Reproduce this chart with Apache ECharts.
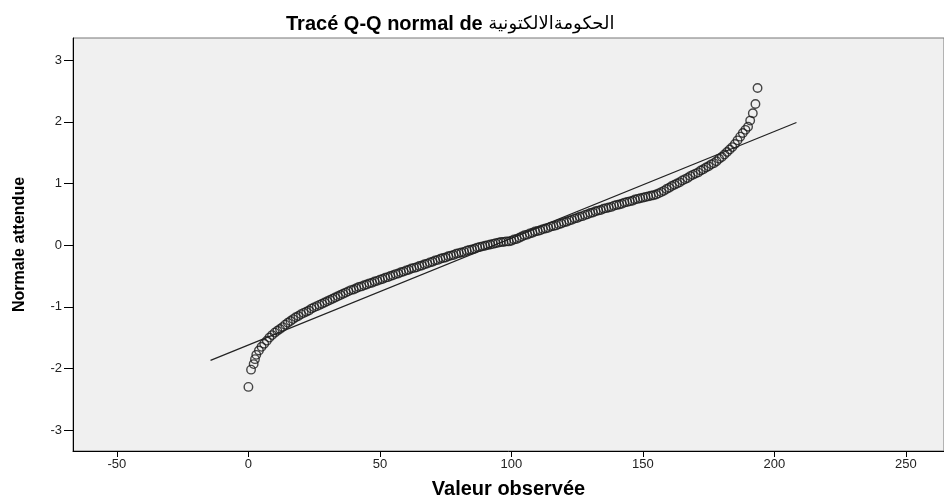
<!DOCTYPE html>
<html>
<head>
<meta charset="utf-8">
<script src="https://cdn.jsdelivr.net/npm/echarts@6/dist/echarts.min.js"></script>
<style>
html,body{margin:0;padding:0;background:#fff;}
#c{width:944px;height:504px;}
</style>
</head>
<body>
<div id="c"></div>
<script>
const obsX = [0, 1, 2, 2.5, 3, 4, 5, 6, 7, 8, 9, 10, 11, 12, 13, 14, 15, 16, 17, 18, 19,
  20, 21, 22, 23, 24, 25, 26, 27, 28, 29, 30, 31, 32, 33, 34, 35, 36, 37, 38, 39,
  40, 41, 42, 43, 44, 45, 46, 47, 48, 49, 50, 51, 52, 53, 54, 55, 56, 57, 58, 59,
  60, 61, 62, 63, 64, 65, 66, 67, 68, 69, 70, 71, 72, 73, 74, 75, 76, 77, 78, 79,
  80, 81, 82, 83, 84, 85, 86, 87, 88, 89, 90, 91, 92, 93, 94, 95, 96, 97, 98, 99,
  100, 101, 102, 103, 104, 105, 106, 107, 108, 109, 110, 111, 112, 113, 114, 115, 116, 117, 118, 119,
  120, 121, 122, 123, 124, 125, 126, 127, 128, 129, 130, 131, 132, 133, 134, 135, 136, 137, 138, 139,
  140, 141, 142, 143, 144, 145, 146, 147, 148, 149, 150, 151, 152, 153, 154, 155, 156, 157, 158, 159,
  160, 161, 162, 163, 164, 165, 166, 167, 168, 169, 170, 171, 172, 173, 174, 175, 176, 177, 178, 179,
  180, 181, 182, 183, 184, 185, 186, 187, 188, 189, 190, 190.8, 191.8, 192.8, 193.6];
const expY = [-2.30, -2.02, -1.93, -1.85, -1.78, -1.71, -1.65, -1.60, -1.55, -1.50, -1.46, -1.42, -1.39, -1.36, -1.33, -1.29, -1.26, -1.23, -1.20, -1.17, -1.15,
  -1.12, -1.10, -1.08, -1.06, -1.03, -1.01, -0.99, -0.97, -0.95, -0.93, -0.91, -0.89, -0.87, -0.85, -0.83, -0.81, -0.79, -0.77, -0.75, -0.73,
  -0.72, -0.70, -0.68, -0.67, -0.65, -0.64, -0.62, -0.61, -0.59, -0.58, -0.56, -0.55, -0.53, -0.52, -0.50, -0.49, -0.47, -0.46, -0.44, -0.43,
  -0.41, -0.40, -0.38, -0.37, -0.36, -0.34, -0.33, -0.31, -0.30, -0.28, -0.27, -0.25, -0.24, -0.22, -0.21, -0.20, -0.18, -0.17, -0.16, -0.14,
  -0.13, -0.12, -0.11, -0.09, -0.08, -0.07, -0.06, -0.04, -0.03, -0.02, -0.01, 0.00, 0.01, 0.02, 0.03, 0.04, 0.05, 0.05, 0.06, 0.06,
  0.07, 0.09, 0.10, 0.12, 0.14, 0.16, 0.17, 0.19, 0.20, 0.22, 0.23, 0.24, 0.26, 0.27, 0.28, 0.30, 0.31, 0.32, 0.34, 0.35,
  0.37, 0.38, 0.40, 0.41, 0.43, 0.44, 0.46, 0.47, 0.49, 0.50, 0.52, 0.53, 0.55, 0.56, 0.57, 0.59, 0.60, 0.61, 0.62, 0.64,
  0.65, 0.66, 0.67, 0.69, 0.70, 0.71, 0.72, 0.74, 0.75, 0.76, 0.77, 0.78, 0.79, 0.80, 0.81, 0.82, 0.84, 0.86, 0.88, 0.91,
  0.93, 0.96, 0.98, 1.00, 1.02, 1.05, 1.07, 1.09, 1.12, 1.14, 1.16, 1.18, 1.21, 1.23, 1.26, 1.28, 1.31, 1.33, 1.36, 1.40,
  1.43, 1.47, 1.51, 1.55, 1.59, 1.64, 1.70, 1.76, 1.82, 1.87, 1.92, 2.02, 2.14, 2.29, 2.55];
// Reference line end points
const lineX = [-14.4, 208.4];
const lineY = [-1.87, 1.99];
// Tick labels
const xTicks = [-50, 0, 50, 100, 150, 200, 250];
const yTicks = [-3, -2, -1, 0, 1, 2, 3];

const titleEn = 'Tracé Q-Q normal de ';
const titleAr = 'الحكومةالالكتونية';
const xName = 'Valeur observée';
const yName = 'Normale attendue';

const points = obsX.map((x, i) => [x, expY[i]]);
const linePts = lineX.map((x, i) => [x, lineY[i]]);

const chart = echarts.init(document.getElementById('c'), null, {renderer: 'canvas'});
chart.setOption({
  backgroundColor: '#fff',
  animation: false,
  title: {
    text: '{en|' + titleEn + '}{ar|' + titleAr + '}',
    left: 281,
    top: 9,
    textStyle: {
      rich: {
        en: {fontFamily: 'Liberation Sans, Arial, sans-serif', fontWeight: 'bold', fontSize: 20, color: '#000'},
        ar: {fontFamily: 'DejaVu Sans, sans-serif', fontWeight: 'normal', fontSize: 18, color: '#000'}
      }
    }
  },
  grid: {
    left: 73, right: 0, top: 38, bottom: 45,
    show: true, backgroundColor: '#f0f0f0', borderColor: '#777', borderWidth: 1,
    containLabel: false
  },
  xAxis: {
    type: 'value',
    min: -66.7, max: 264.5,
    name: xName,
    nameLocation: 'middle',
    nameGap: 28,
    nameTextStyle: {fontFamily: 'Liberation Sans, Arial, sans-serif', fontWeight: 'bold', fontSize: 20, color: '#000'},
    axisLine: {show: true, onZero: false, lineStyle: {color: '#000', width: 1}},
    axisTick: {show: true, length: 6, customValues: xTicks, lineStyle: {color: '#000'}},
    axisLabel: {customValues: xTicks, margin: 7, fontFamily: 'Liberation Sans, Arial, sans-serif', fontSize: 13, color: '#222'},
    splitLine: {show: false}
  },
  yAxis: {
    type: 'value',
    min: -3.34, max: 3.36,
    name: yName,
    nameLocation: 'middle',
    nameGap: 45,
    nameRotate: 90,
    nameTextStyle: {fontFamily: 'Liberation Sans, Arial, sans-serif', fontWeight: 'bold', fontSize: 16, color: '#000'},
    axisLine: {show: true, onZero: false, lineStyle: {color: '#000', width: 1}},
    axisTick: {show: true, length: 9, customValues: yTicks, lineStyle: {color: '#000'}},
    axisLabel: {customValues: yTicks, margin: 11, fontFamily: 'Liberation Sans, Arial, sans-serif', fontSize: 13, color: '#222'},
    splitLine: {show: false}
  },
  series: [
    {
      type: 'line',
      data: linePts,
      symbol: 'none',
      lineStyle: {color: '#222', width: 1.2},
      silent: true,
      z: 3
    },
    {
      type: 'scatter',
      data: points,
      symbol: 'circle',
      symbolSize: 8.5,
      itemStyle: {color: 'rgba(0,0,0,0)', borderColor: '#1a1a1a', borderWidth: 1.4},
      z: 2
    }
  ]
});
</script>
</body>
</html>
